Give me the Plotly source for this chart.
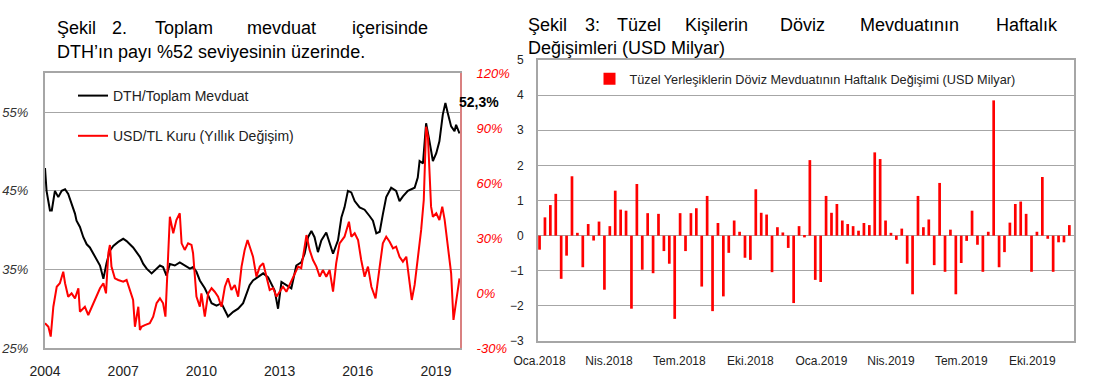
import plotly.graph_objects as go
import pandas as pd

# ---------------- Left chart data (Şekil 2) ----------------
dth_years = [2004.00, 2004.06, 2004.19, 2004.26, 2004.38, 2004.51, 2004.64, 2004.77, 2004.89, 2005.02,
             2005.15, 2005.21, 2005.34, 2005.47, 2005.60, 2005.72, 2005.85, 2005.98, 2006.11, 2006.24,
             2006.36, 2006.49, 2006.62, 2006.81, 2007.00, 2007.13, 2007.26, 2007.38, 2007.51, 2007.64,
             2007.77, 2007.90, 2008.09, 2008.28, 2008.41, 2008.53, 2008.66, 2008.79, 2008.98, 2009.17,
             2009.36, 2009.56, 2009.68, 2009.81, 2009.94, 2010.13, 2010.26, 2010.39, 2010.58, 2010.77,
             2010.90, 2011.02, 2011.22, 2011.41, 2011.60, 2011.73, 2011.85, 2011.98, 2012.17, 2012.37,
             2012.56, 2012.68, 2012.81, 2012.94, 2013.07, 2013.26, 2013.45, 2013.64, 2013.83, 2013.96,
             2014.09, 2014.22, 2014.34, 2014.47, 2014.60, 2014.79, 2014.92, 2015.05, 2015.24, 2015.37,
             2015.49, 2015.62, 2015.75, 2015.88, 2016.07, 2016.26, 2016.45, 2016.58, 2016.71, 2016.84,
             2016.96, 2017.09, 2017.28, 2017.47, 2017.60, 2017.73, 2017.92, 2018.18, 2018.30, 2018.37,
             2018.50, 2018.62, 2018.75, 2018.88, 2019.01, 2019.13, 2019.26, 2019.36, 2019.45, 2019.58,
             2019.71, 2019.77, 2019.90]
dth_values = [47.9, 45.0, 42.5, 42.5, 45.0, 44.2, 45.0, 45.2, 44.6, 43.4,
              42.1, 41.2, 40.4, 39.1, 38.2, 37.8, 37.0, 36.1, 35.5, 33.8,
              35.8, 37.4, 38.0, 38.5, 38.9, 38.6, 38.2, 37.8, 37.2, 36.6,
              35.7, 35.1, 34.5, 35.1, 35.5, 35.3, 34.2, 35.7, 35.5, 35.9,
              35.5, 35.1, 35.3, 34.7, 33.6, 32.6, 31.7, 30.7, 30.4, 30.7,
              29.8, 29.0, 29.6, 30.0, 30.7, 31.9, 33.0, 33.6, 34.0, 34.5,
              34.0, 33.2, 32.3, 30.0, 33.4, 33.0, 32.6, 35.5, 35.9, 37.0,
              39.1, 39.9, 39.1, 37.2, 38.7, 39.7, 38.2, 37.0, 38.7, 41.6,
              42.9, 45.0, 44.8, 43.7, 42.9, 42.6, 41.8, 41.2, 39.6, 39.8,
              42.0, 44.2, 45.4, 45.0, 43.7, 44.3, 45.0, 45.4, 46.7, 48.8,
              48.5, 53.6, 51.3, 48.8, 49.8, 51.3, 54.7, 56.2, 54.9, 53.2,
              52.6, 53.4, 52.3]

usd_years = [2004.00, 2004.13, 2004.22, 2004.32, 2004.45, 2004.57, 2004.70, 2004.77, 2004.89, 2005.02,
             2005.15, 2005.28, 2005.34, 2005.53, 2005.66, 2005.85, 2005.98, 2006.11, 2006.24, 2006.34,
             2006.43, 2006.49, 2006.55, 2006.68, 2006.81, 2007.00, 2007.13, 2007.26, 2007.38, 2007.45,
             2007.58, 2007.64, 2007.70, 2007.83, 2008.02, 2008.15, 2008.28, 2008.41, 2008.53, 2008.62,
             2008.73, 2008.79, 2008.92, 2009.04, 2009.17, 2009.24, 2009.36, 2009.49, 2009.62, 2009.68,
             2009.81, 2009.94, 2010.00, 2010.13, 2010.26, 2010.39, 2010.51, 2010.64, 2010.77, 2010.90,
             2011.02, 2011.15, 2011.28, 2011.41, 2011.54, 2011.66, 2011.77, 2011.88, 2011.98, 2012.11,
             2012.24, 2012.37, 2012.49, 2012.62, 2012.75, 2012.88, 2013.00, 2013.13, 2013.26, 2013.45,
             2013.58, 2013.71, 2013.83, 2014.03, 2014.15, 2014.28, 2014.41, 2014.54, 2014.66, 2014.79,
             2014.92, 2015.05, 2015.17, 2015.30, 2015.49, 2015.66, 2015.75, 2015.88, 2016.01, 2016.13,
             2016.26, 2016.39, 2016.52, 2016.68, 2016.84, 2016.96, 2017.09, 2017.22, 2017.35, 2017.47,
             2017.60, 2017.73, 2017.86, 2017.98, 2018.07, 2018.18, 2018.30, 2018.43, 2018.53, 2018.62,
             2018.69, 2018.75, 2018.81, 2018.88, 2019.01, 2019.13, 2019.24, 2019.33, 2019.45, 2019.58,
             2019.67, 2019.77, 2019.90]
usd_values = [-16.5, -18.4, -23.8, -7.5, 3.4, 5.3, 11.6, 5.3, -2.0, -0.2,
              -2.9, 2.6, -10.2, -7.5, -12.0, -5.6, -2.0, 2.6, 5.3, -0.2,
              21.7, 26.2, 14.4, 8.0, 7.1, 6.2, 7.1, 1.6, -3.8, -18.4,
              -7.5, -20.2, -18.4, -17.5, -16.5, -12.9, -5.6, -2.9, -5.6, -12.9,
              18.0, 41.6, 32.6, 39.8, 43.5, 27.1, 23.5, 27.1, 26.2, 21.7,
              -2.0, -7.5, -0.2, -12.9, -0.2, 2.6, 0.7, -2.0, -7.5, 3.4,
              8.0, 1.6, 4.4, -2.0, 14.4, 23.5, 28.9, 23.5, 19.8, 8.9,
              14.4, 16.2, 9.8, 1.6, 2.6, -2.0, 0.7, 3.4, 0.7, 6.2,
              9.8, 14.4, 13.5, 31.6, 23.5, 18.0, 14.4, 8.9, 12.5, 8.9,
              12.5, 0.7, 16.2, 27.1, 30.7, 38.9, 30.7, 32.6, 28.9, 18.0,
              8.9, 14.4, 3.4, -2.9, 14.4, 27.1, 30.7, 28.0, 24.4, 25.3,
              19.8, 17.1, 19.8, 5.3, -3.8, 4.4, 18.0, 34.4, 50.7, 90.7,
              85.3, 67.1, 47.1, 41.6, 43.5, 39.8, 47.1, 40.0, 25.3, 10.7,
              -14.7, -5.6, 8.0]

left_x_ticks = [2004, 2007, 2010, 2013, 2016, 2019]
left_y_ticks = [25, 35, 45, 55]
right_y_ticks = [-30, 0, 30, 60, 90, 120]

# ---------------- Right chart data (Şekil 3) ----------------
week_start = "2018-01-01"
weekly_change = [-0.4, 0.52, 0.87, 1.19, -1.23, -0.57, 1.69, 0.08, -0.9, 0.33,
                 -0.14, 0.40, -1.54, 0.27, 1.28, 0.74, 0.71, -2.08, 1.47, -0.97,
                 0.64, -1.07, 0.62, -0.44, -0.80, -2.37, 0.64, -0.44, 0.64, 0.78,
                 -1.45, 1.13, -2.15, 0.36, -1.73, -0.49, 0.43, 0.11, -0.63, -0.69,
                 1.32, 0.65, 0.60, -1.04, 0.24, 0.09, -0.35, -1.92, 0.27, -0.05,
                 2.15, -1.26, -1.32, 1.13, 0.65, 0.90, 0.43, 0.33, 0.27, 0.14,
                 0.36, 0.30, 2.37, 2.18, 0.43, 0.08, -0.12, 0.20, -0.80, -1.67,
                 1.13, 0.24, 0.46, -0.84, 1.50, -1.03, 0.17, -1.67, -0.78, -0.15,
                 0.71, -0.26, -1.03, 0.11, 3.85, -0.90, -0.47, 0.37, 0.90, 0.97,
                 0.62, -1.03, 0.11, 1.67, -0.09, -1.03, -0.19, -0.19, 0.30]
month_ticks = ["2018-01-01", "2018-04-01", "2018-07-01", "2018-10-01",
               "2019-01-01", "2019-04-01", "2019-07-01", "2019-10-01"]
month_labels = ["Oca.2018", "Nis.2018", "Tem.2018", "Eki.2018",
                "Oca.2019", "Nis.2019", "Tem.2019", "Eki.2019"]

W, H = 1093, 384
FONT = "Liberation Sans, Arial, sans-serif"


def px_x(p):
    return p / W


def px_y(p):
    return 1 - p / H


weeks = pd.date_range(week_start, periods=len(weekly_change), freq="7D")

fig = go.Figure()

fig.add_trace(go.Scatter(x=dth_years, y=dth_values, mode="lines", name="DTH/Toplam Mevduat",
                         line=dict(color="#000000", width=2), xaxis="x", yaxis="y",
                         legend="legend", legendgroup="a"))
fig.add_trace(go.Scatter(x=usd_years, y=usd_values, mode="lines", name="USD/TL Kuru (Yıllık Değişim)",
                         line=dict(color="#ff0000", width=2), xaxis="x", yaxis="y2",
                         legend="legend", legendgroup="b"))
fig.add_trace(go.Bar(x=weeks, y=weekly_change,
                     name="Tüzel Yerleşiklerin Döviz Mevduatının Haftalık Değişimi (USD Milyar)",
                     marker=dict(color="#ff0000", line=dict(width=0)), xaxis="x2", yaxis="y3",
                     legend="legend2"))

grid_c = "#a6a6a6"

fig.update_layout(
    width=W, height=H,
    margin=dict(l=0, r=0, t=0, b=0, autoexpand=False),
    paper_bgcolor="white", plot_bgcolor="white",
    font=dict(family=FONT, color="#222222"),
    bargap=0.5,
    xaxis=dict(domain=[px_x(45), px_x(460)], anchor="y", range=[2004, 2019.92],
               tickvals=left_x_ticks, ticktext=[str(v) for v in left_x_ticks],
               showgrid=False, zeroline=False, showline=True, linecolor=grid_c, linewidth=2,
               mirror=True, ticks="", ticklabelstandoff=9, automargin=False,
               tickfont=dict(size=14, color="#222222", family=FONT)),
    yaxis=dict(domain=[px_y(348), px_y(73)], anchor="x", range=[25, 60],
               tickvals=left_y_ticks, ticktext=[f"{v}%" for v in left_y_ticks],
               showgrid=True, gridcolor=grid_c, gridwidth=1, zeroline=False,
               showline=True, linecolor=grid_c, linewidth=2, ticks="", ticklabelstandoff=12,
               automargin=False,
               tickfont=dict(size=13, color="#333333", family=FONT, style="italic")),
    yaxis2=dict(overlaying="y", side="right", anchor="x", range=[-30, 120],
                tickvals=right_y_ticks, ticktext=[f"{v}%" for v in right_y_ticks],
                showgrid=False, zeroline=False, showline=True, linecolor="#d98080", linewidth=2,
                ticks="", ticklabelstandoff=12, automargin=False,
                tickfont=dict(size=13, color="#ff0000", family=FONT, style="italic")),
    xaxis2=dict(domain=[px_x(538), px_x(1074)], anchor="y3", type="date",
                range=["2017-12-30", "2019-11-24"],
                tickvals=month_ticks, ticktext=month_labels,
                showgrid=False, zeroline=False, showline=True, linecolor=grid_c, linewidth=2,
                mirror=True, ticks="", ticklabelstandoff=8, automargin=False,
                tickfont=dict(size=12, color="#222222", family=FONT)),
    yaxis3=dict(domain=[px_y(341), px_y(60)], anchor="x2", range=[-3, 5], dtick=1,
                showgrid=True, gridcolor=grid_c, gridwidth=1,
                zeroline=True, zerolinecolor=grid_c, zerolinewidth=1,
                showline=True, linecolor=grid_c, linewidth=2, mirror=True,
                ticks="", ticklabelstandoff=10, automargin=False,
                tickfont=dict(size=12, color="#222222", family=FONT)),
    legend=dict(x=px_x(73), y=px_y(80), xanchor="left", yanchor="top",
                bgcolor="rgba(0,0,0,0)", font=dict(size=14, color="#222222", family=FONT),
                tracegroupgap=19, traceorder="grouped"),
    legend2=dict(x=px_x(805), y=px_y(79), xanchor="center", yanchor="middle",
                 bgcolor="white", font=dict(size=12.7, color="#222222", family=FONT),
                 itemwidth=30),
    showlegend=True,
)

annotations = []


def word(text, x, y, anchor="left", size=18, bold=False, color="#000000"):
    annotations.append(dict(text=f"<b>{text}</b>" if bold else text, x=px_x(x), y=px_y(y),
                            xref="paper", yref="paper", xanchor=anchor, yanchor="middle",
                            showarrow=False, font=dict(size=size, color=color, family=FONT)))


# Left title (justified first line)
for t, x, a in [("Şekil", 55, "left"), ("2.", 110, "left"), ("Toplam", 153, "left"),
                ("mevduat", 245, "left"), ("içerisinde", 430, "right")]:
    word(t, x, 28, a)
word("DTH’ın payı %52 seviyesinin üzerinde.", 55, 52)

# Right title (justified first line)
for t, x, a in [("Şekil", 526, "left"), ("3:", 583, "left"), ("Tüzel", 615, "left"),
                ("Kişilerin", 683, "left"), ("Döviz", 778, "left"), ("Mevduatının", 858, "left"),
                ("Haftalık", 1060, "right")]:
    word(t, x, 25, a)
word("Değişimleri (USD Milyar)", 526, 48)

# Last value label
word("52,3%", 457, 102, size=14, bold=True)

fig.update_layout(annotations=annotations)

# The default 8px page margin would shift the fixed-size figure; remove it.
fig.write_html("out.html", config={"displayModeBar": False},
               post_script="document.body.style.margin='0px';")
